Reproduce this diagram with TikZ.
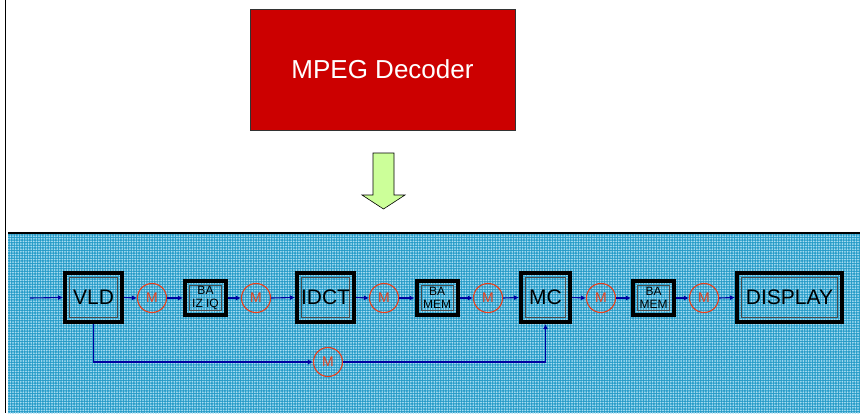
\documentclass[tikz,border=0pt]{standalone}
\usepackage{fontspec}
\setmainfont{Liberation Sans}
\usepackage{xcolor}
\usetikzlibrary{arrows.meta,positioning,patterns.meta}
\definecolor{decred}{RGB}{204,0,0}
\definecolor{arrowgreen}{RGB}{204,255,153}
\definecolor{flownavy}{RGB}{0,0,160}
\definecolor{memred}{RGB}{232,64,28}
\definecolor{panelblue}{RGB}{38,155,200}
\definecolor{panellight}{RGB}{170,222,242}

\begin{document}
\begin{tikzpicture}[x=1pt,y=-1pt,
  stage/.style={draw=black,line width=4pt,minimum width=57pt,minimum height=49pt,
                inner sep=0pt,align=center,font=\fontsize{21}{24}\selectfont,
                path picture={\draw[black!70,line width=0.8pt]
                  ([shift={(4.5pt,4.5pt)}]path picture bounding box.south west) rectangle
                  ([shift={(-4.5pt,-4.5pt)}]path picture bounding box.north east);}},
  buf/.style={stage,minimum width=41pt,minimum height=34pt,
              font=\fontsize{12}{12.5}\selectfont},
  mem/.style={circle,draw=memred,line width=1.1pt,minimum size=29pt,inner sep=0pt,
              text=memred,font=\fontsize{14}{14}\selectfont},
  flow/.style={-{Latex[length=5pt,width=5pt]},flownavy,line width=1.1pt}
]
\useasboundingbox (0,0) rectangle (860,413);
% Panel
\fill[panelblue] (8,233) rectangle (860,413);
\fill[pattern={Dots[distance=2.6pt,radius=1pt]},pattern color=panellight]
  (8,233) rectangle (860,413);
\draw[black,line width=1.2pt] (8,233) -- (860,233);
\draw[black,line width=1.5pt] (5.5,0) -- (5.5,413);
% Decoder box
\node[draw=black!80,fill=decred,minimum width=265pt,minimum height=121pt,
      text=white,font=\fontsize{26}{28}\selectfont] (dec) at (382.5,69.5) {MPEG Decoder};
% Down arrow
\filldraw[fill=arrowgreen,draw=black,line width=0.6pt]
  (373,153) -- (394,153) -- (394,195) -- (405,195) -- (383.5,209)
  -- (362,195) -- (373,195) -- cycle;
% Stages
\node[stage] (vld) at (93.5,297.5) {VLD};
\node[mem] (m1) at (152,298) {M};
\node[buf] (bizq) at (205.5,298) {BA\\IZ IQ};
\node[mem] (m2) at (256,298) {M};
\node[stage] (idct) at (325.5,297.5) {IDCT};
\node[mem] (m3) at (384,298) {M};
\node[buf] (bmem1) at (437,298) {BA\\MEM};
\node[mem] (m4) at (488,298) {M};
\node[stage,minimum width=49pt] (mc) at (545.5,297.5) {MC};
\node[mem] (m5) at (601,298) {M};
\node[buf] (bmem2) at (653.5,298) {BA\\MEM};
\node[mem] (m6) at (704,298) {M};
\node[stage,minimum width=105pt] (disp) at (789.5,297.5) {DISPLAY};
\node[mem] (m7) at (328,362) {M};
% Flow
\coordinate (in) at (30,298);
\draw[flow] (in) -- (vld.west);
\draw[flow] (vld.east) -- (m1.west);
\draw[flow] (m1.east) -- (bizq.west);
\draw[flow] (bizq.east) -- (m2.west);
\draw[flow] (m2.east) -- (idct.west);
\draw[flow] (idct.east) -- (m3.west);
\draw[flow] (m3.east) -- (bmem1.west);
\draw[flow] (bmem1.east) -- (m4.west);
\draw[flow] (m4.east) -- (mc.west);
\draw[flow] (mc.east) -- (m5.west);
\draw[flow] (m5.east) -- (bmem2.west);
\draw[flow] (bmem2.east) -- (m6.west);
\draw[flow] (m6.east) -- (disp.west);
% Bypass to MC
\draw[flow] (vld.south) |- (m7.west);
\draw[flow] (m7.east) -| (mc.south);
\end{tikzpicture}
\end{document}
